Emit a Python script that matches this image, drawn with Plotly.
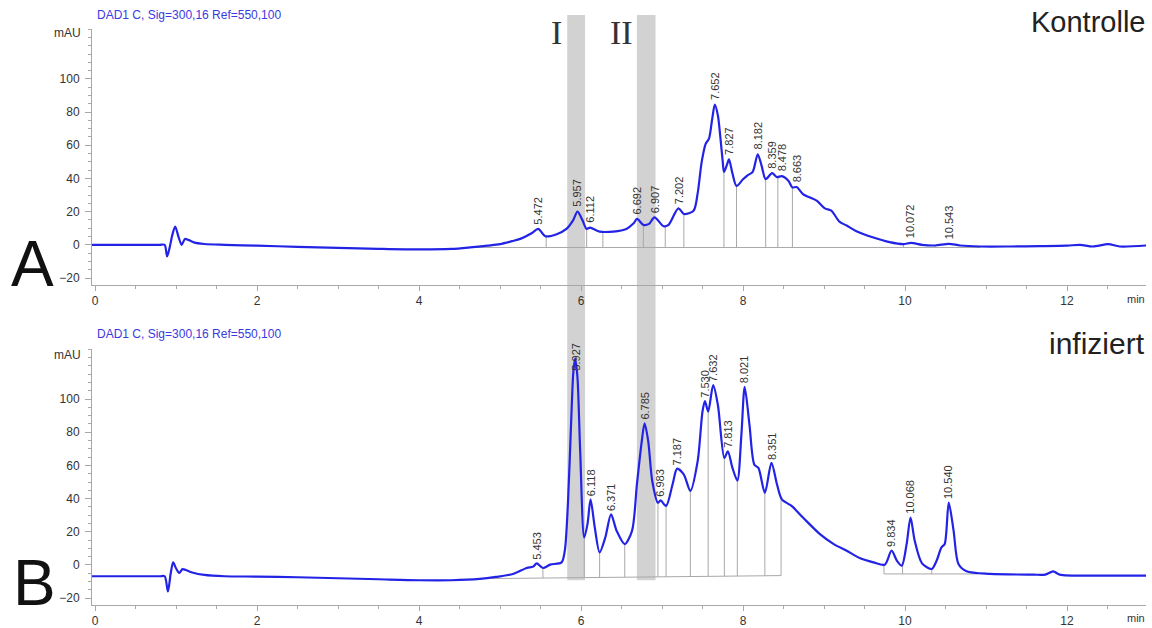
import numpy as np
import plotly.graph_objects as go

# ---------------- data: Kontrolle (A) ----------------
t_a = [-0.04, 0.3, 0.6, 0.8, 0.86, 0.89, 0.92, 0.955, 0.99, 1.03, 1.07, 1.11, 1.15, 1.22, 1.35, 1.6,
       2.0, 2.5, 3.0,
       3.5, 4.0, 4.4, 4.63, 4.85, 5.0, 5.15, 5.25, 5.39, 5.472, 5.56, 5.70, 5.82, 5.90, 5.957, 6.02,
       6.07, 6.112, 6.23, 6.40, 6.56, 6.65, 6.692, 6.77, 6.84, 6.907, 7.02, 7.08, 7.202, 7.27, 7.39,
       7.44, 7.49, 7.54, 7.58, 7.62, 7.652, 7.69, 7.72, 7.75, 7.765, 7.80, 7.827, 7.87, 7.92, 8.00,
       8.06, 8.12, 8.182, 8.23, 8.28, 8.359, 8.42, 8.478, 8.56, 8.61, 8.663, 8.74, 8.91, 9.01, 9.09,
       9.19, 9.28, 9.40, 9.61, 9.81, 9.98, 10.072, 10.21, 10.37, 10.543, 10.68, 10.93, 11.3, 11.67,
       12.0, 12.16, 12.32, 12.51, 12.65, 12.98]
y_a = [0, 0, 0, 0, 0, -7, -2, 6, 11, 5, 0, 3.5, 3, 1.5, 0.5, 0,
       -0.5, -1.2, -1.8,
       -2.4, -2.8, -2.5, -1.6, -0.5, 0.4, 2.2, 3.6, 7.0, 9.6, 5.2, 6.4, 9.6, 14.6, 20, 14.6,
       9.6, 10.4, 8.0, 8.0, 9.6, 13, 15.6, 12, 12.6, 16.6, 11.2, 12, 22, 18.6, 20.6,
       31, 50, 61, 64, 76, 84.5, 78, 65, 50, 44, 48, 51.5, 43, 35.5, 39.5,
       42, 44, 54.6, 47.6, 39.6, 43.2, 40.8, 41.4, 38.6, 34.6, 34.8, 30.6, 26.6, 22, 20.6,
       14, 11.6, 8.2, 4.4, 1.6, 0.4, 1.2, 0, -0.4, 0.6, -0.4, -1, -1, -0.8,
       -0.5, 0, -1, 0.4, -1, -0.4]

peaks_a = ["5.472", "5.957", "6.112", "6.692", "6.907", "7.202", "7.652", "7.827",
           "8.182", "8.359", "8.478", "8.663", "10.072", "10.543"]
drops_a = [5.57, 6.07, 6.27, 6.77, 7.04, 7.27, 7.765, 7.92, 8.28, 8.43, 8.61, 9.98, 10.37]
base_a_t = [4.65, 10.93]
base_a_y = [-1.6, -1.6]

# ---------------- data: infiziert (B) ----------------
t_b = [-0.04, 0.3, 0.6, 0.8, 0.86, 0.90, 0.935, 0.965, 1.0, 1.04, 1.08, 1.12, 1.2, 1.35, 1.6, 2.0,
       2.5, 3.0, 3.5,
       4.0, 4.4, 4.75, 4.95, 5.16, 5.33, 5.41, 5.453, 5.53, 5.62, 5.76, 5.80, 5.84, 5.88, 5.905,
       5.927, 5.955, 5.99, 6.04, 6.08, 6.118, 6.17, 6.23, 6.30, 6.371, 6.44, 6.54, 6.63, 6.69, 6.75,
       6.785, 6.83, 6.88, 6.95, 6.983, 7.05, 7.13, 7.187, 7.27, 7.35, 7.44, 7.50, 7.530, 7.57,
       7.632, 7.69, 7.77, 7.813, 7.87, 7.93, 7.98, 8.021, 8.08, 8.14, 8.19, 8.27, 8.351, 8.42,
       8.48, 8.60, 8.74, 8.95, 9.12, 9.28, 9.44, 9.61, 9.75, 9.834, 9.90, 9.96, 10.02, 10.068,
       10.12, 10.21, 10.33, 10.39, 10.45, 10.49, 10.540, 10.60, 10.66, 10.76, 11.05, 11.58,
       11.73, 11.83, 11.91, 12.49, 12.98]
y_b = [-6.8, -6.8, -6.8, -6.8, -6.8, -16, -5, 1.6, -2, -4.8, -2.5, -3, -4.5, -6, -6.8, -7.0,
       -7.4, -8, -8.6,
       -9.2, -9.2, -8.4, -7.2, -5.4, -1.8, -1, 1.0, -1.8, 0.2, 1.6, 8.6, 38.6, 88.4, 116,
       124.4, 114, 68.5, 16.6, 24.6, 39.5, 22.6, 7.6, 16.6, 30.5, 20.6, 12.6, 20.6, 48.5, 74.5,
       85.4, 74.5, 50.5, 37.5, 38.9, 35.6, 48.5, 58.1, 54.5, 44.6, 62.5, 92.5, 98.8, 92.5,
       108.4, 96.4, 64.5, 68.5, 58.5, 50.9, 78.4, 107.4, 84.4, 60.5, 58.5, 43.5, 61.5, 48.5,
       39.5, 35.6, 28.6, 18.6, 12.6, 8.6, 4.2, 1.6, 0.2, 8.6, 2.6, -0.4, 12.6, 28.6,
       14.6, 1.0, -2.4, 2.6, 10.6, 12.6, 37.6, 20.6, 0.6, -3.8, -5.4, -5.8,
       -5.8, -3.8, -5.8, -6.4, -6.4]

peaks_b = ["5.453", "5.927", "6.118", "6.371", "6.785", "6.983", "7.187", "7.530", "7.632",
           "7.813", "8.021", "8.351", "9.834", "10.068", "10.540"]
drops_b = [5.53, 6.04, 6.23, 6.54, 6.95, 7.05, 7.35, 7.57, 7.77, 7.93, 8.27, 8.47]
base_b1_t = [4.88, 8.47]
base_b1_y = [-8.2, -6.4]
drops_b2 = [9.74, 9.97, 10.33]
base_b2_t = [9.74, 10.9]
base_b2_y = [-5.4, -5.4]

bands = [(5.83, 6.05), (6.69, 6.92)]
band_labels = ["I", "II"]
header = "DAD1 C, Sig=300,16 Ref=550,100"

# ---------------- figure ----------------
W, H = 1152, 628
BLUE = "#2323e6"
GRAY = "#a8a8a8"
TXT = "#333333"
FONT = "Liberation Sans, Arial, sans-serif"

def py(p):
    return 1 - p / H

fig = go.Figure()

def add_panel(t, y, peaks, drop_sets, xa, ya, offset, clamp):
    # integration baselines + drop lines
    for (bt, by, drops) in drop_sets:
        fig.add_trace(go.Scatter(x=bt, y=by, mode="lines", line=dict(color=GRAY, width=1),
                                 xaxis=xa, yaxis=ya, hoverinfo="skip", showlegend=False))
        xs, ys = [], []
        for d in drops:
            b = float(np.interp(d, bt, by))
            c = float(np.interp(d, t, y))
            xs += [d, d, None]
            ys += [b, c, None]
        fig.add_trace(go.Scatter(x=xs, y=ys, mode="lines", line=dict(color=GRAY, width=1),
                                 xaxis=xa, yaxis=ya, hoverinfo="skip", showlegend=False))
    fig.add_trace(go.Scatter(x=t, y=y, mode="lines", line=dict(color=BLUE, width=2.2, shape="spline", smoothing=0.8),
                             xaxis=xa, yaxis=ya, showlegend=False))
    axn = "" if xa == "x" else "2"
    for lab in peaks:
        pt = float(lab)
        pv = float(np.interp(pt, t, y)) + offset
        pv = min(pv, clamp)
        fig.add_annotation(x=pt, y=pv, xref="x" + axn, yref="y" + axn, text=lab, textangle=-90,
                           showarrow=False, xanchor="center", yanchor="bottom",
                           font=dict(family=FONT, size=11, color=TXT))

add_panel(t_a, y_a, peaks_a, [(base_a_t, base_a_y, drops_a)], "x", "y", 1.5, 200)
add_panel(t_b, y_b, peaks_b, [(base_b1_t, base_b1_y, drops_b), (base_b2_t, base_b2_y, drops_b2)],
          "x2", "y2", 0.8, 116)

xdom = [92 / W, 1146 / W]
xr = [(92 - 95) / 81, (1146 - 95) / 81]
yr = [-24, 130]
xcommon = dict(range=xr, domain=xdom, showgrid=False, zeroline=False, showline=True,
               linecolor=GRAY, linewidth=1, ticks="outside", ticklen=5, tickcolor=GRAY,
               tickmode="array", tickvals=[0, 2, 4, 6, 8, 10, 12],
               tickfont=dict(family=FONT, size=12, color=TXT),
               minor=dict(ticks="outside", ticklen=3, tickcolor=GRAY, dtick=0.5, tick0=0))
ycommon = dict(range=yr, showgrid=False, zeroline=False, showline=True, linecolor=GRAY,
               linewidth=1, ticks="outside", ticklen=6, tickcolor=GRAY, tickmode="array",
               tickvals=[-20, 0, 20, 40, 60, 80, 100], ticklabelstandoff=3,
               tickfont=dict(family=FONT, size=12, color=TXT),
               minor=dict(ticks="outside", ticklen=3, tickcolor=GRAY, dtick=5, tick0=0))

fig.update_layout(
    width=W, height=H, autosize=False,
    margin=dict(l=0, r=0, t=0, b=0),
    paper_bgcolor="white", plot_bgcolor="rgba(0,0,0,0)",
    showlegend=False,
    xaxis=dict(anchor="y", **xcommon),
    yaxis=dict(anchor="x", domain=[py(286), py(29.3)], **ycommon),
    xaxis2=dict(anchor="y2", **xcommon),
    yaxis2=dict(anchor="x2", domain=[py(607.7), py(351)], **ycommon),
)

# shaded bands through both panels
for (b0, b1), lab, lx in zip(bands, band_labels, [556.7, 621]):
    fig.add_shape(type="rect", xref="x", yref="paper", x0=b0, x1=b1, y0=py(583), y1=py(15),
                  fillcolor="#d2d2d2", line=dict(width=0), layer="below")
    fig.add_annotation(x=lx / W, y=py(33), xref="paper", yref="paper", text=lab, showarrow=False,
                       xanchor="center", yanchor="middle",
                       font=dict(family="Liberation Serif, Times New Roman, serif", size=34, color=TXT))

def ptext(text, x, y, size, color=TXT, xanchor="left", family=FONT):
    fig.add_annotation(x=x / W, y=py(y), xref="paper", yref="paper", text=text, showarrow=False,
                       xanchor=xanchor, yanchor="middle", font=dict(family=family, size=size, color=color))

for yy in (14.7, 336):
    ptext(header, 95, yy, 12, color="#3a3ae0")
for yy in (33, 357):
    ptext("mAU", 83, yy, 12, xanchor="right")
for yy in (300, 621):
    ptext("min", 1147, yy, 11, xanchor="right")
ptext("Kontrolle", 1147, 22, 29, color="#222222", xanchor="right")
ptext("infiziert", 1147, 345, 30, color="#222222", xanchor="right")
ptext("A", 9, 265, 64, color="#111111")
ptext("B", 11, 586, 64, color="#111111")

fig.write_html("out.html")
